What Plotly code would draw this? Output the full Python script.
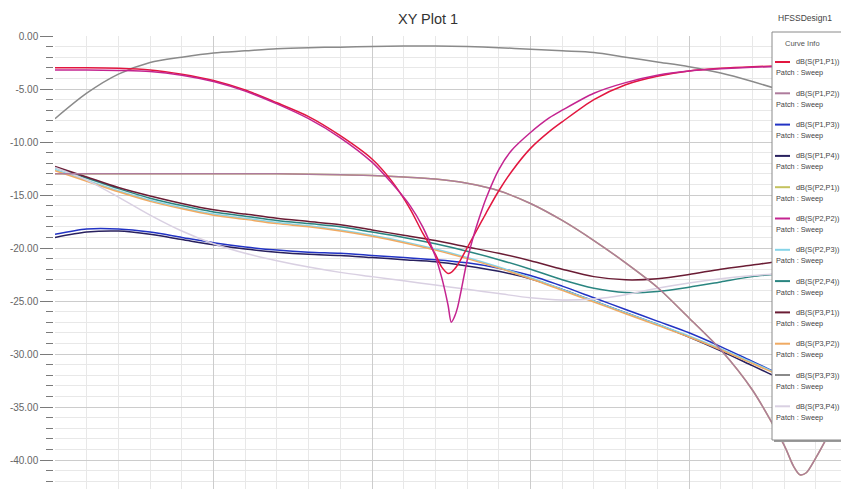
import plotly.graph_objects as go

# ---------------- data (frequency in GHz, magnitude in dB) ----------------
freq = [2.00, 2.05, 2.10, 2.15, 2.20, 2.25, 2.30, 2.35, 2.40, 2.45, 2.50, 2.55, 2.60,
        2.65, 2.70, 2.75, 2.80, 2.85, 2.90, 2.95, 3.00, 3.05, 3.10, 3.15, 3.20, 3.25]

freq_dip = [2.00, 2.05, 2.10, 2.15, 2.20, 2.25, 2.30, 2.35, 2.40, 2.45, 2.50, 2.53, 2.56,
            2.58, 2.60, 2.61, 2.62, 2.625, 2.63, 2.635, 2.64, 2.65, 2.66, 2.67, 2.68, 2.70,
            2.72, 2.75, 2.78, 2.80, 2.85, 2.90, 2.95, 3.00, 3.05, 3.10, 3.15, 3.20, 3.25]

freq_s12 = [2.00, 2.05, 2.10, 2.15, 2.20, 2.25, 2.30, 2.35, 2.40, 2.45, 2.50, 2.55, 2.60,
            2.65, 2.70, 2.75, 2.80, 2.85, 2.90, 2.95, 3.00, 3.05, 3.10, 3.15, 3.165, 3.175,
            3.185, 3.20, 3.22, 3.25]

s11 = [-3.0, -3.0, -3.05, -3.2, -3.6, -4.2, -5.1, -6.3, -7.6, -9.4, -11.6, -13.6, -16.3,
       -18.6, -20.6, -21.8, -22.4, -22.3, -22.0, -21.6, -21.1, -20.0, -18.9, -17.8, -16.7, -14.6,
       -12.8, -10.6, -9.0, -8.1, -6.0, -4.6, -3.8, -3.3, -3.05, -2.9, -2.8, -2.75, -2.7]

s22 = [-3.2, -3.2, -3.25, -3.35, -3.7, -4.3, -5.2, -6.4, -7.8, -9.6, -11.9, -13.8, -16.0,
       -18.0, -20.8, -22.8, -25.4, -27.0, -26.5, -25.6, -24.2, -21.2, -18.9, -17.0, -15.3, -12.6,
       -10.8, -9.1, -7.7, -7.0, -5.4, -4.4, -3.7, -3.3, -3.1, -2.95, -2.85, -2.8, -2.75]

s12 = [-13.0, -13.0, -13.0, -13.0, -13.0, -13.0, -13.0, -13.0, -13.05, -13.1, -13.15, -13.3,
       -13.5, -13.9, -14.6, -15.8, -17.4, -19.3, -21.4, -23.7, -26.6, -29.6, -33.4, -38.6,
       -40.6, -41.4, -41.2, -39.8, -37.6, -34.0]
s21 = s12  # reciprocal pair, drawn underneath S12

s13 = [-18.7, -18.2, -18.2, -18.5, -19.0, -19.5, -19.9, -20.2, -20.4, -20.5, -20.7, -20.9, -21.1,
       -21.4, -21.9, -22.6, -23.6, -24.7, -25.8, -26.9, -28.0, -29.3, -30.7, -32.1, -33.5, -34.8]

s14 = [-19.0, -18.5, -18.4, -18.7, -19.2, -19.7, -20.1, -20.4, -20.6, -20.7, -20.9, -21.1, -21.3,
       -21.7, -22.2, -22.9, -23.9, -25.0, -26.1, -27.2, -28.4, -29.7, -31.1, -32.5, -33.9, -35.2]

s23 = [-12.6, -13.6, -14.6, -15.5, -16.2, -16.8, -17.2, -17.6, -17.9, -18.3, -18.8, -19.4, -20.1,
       -20.9, -21.8, -22.8, -23.9, -25.0, -26.1, -27.2, -28.3, -29.5, -30.8, -32.1, -33.4, -34.6]

s32 = [-12.7, -13.7, -14.7, -15.6, -16.3, -16.9, -17.3, -17.7, -18.0, -18.4, -18.9, -19.5, -20.2,
       -21.0, -21.9, -22.9, -24.0, -25.1, -26.2, -27.3, -28.4, -29.6, -30.9, -32.2, -33.5, -34.7]

s24 = [-12.4, -13.4, -14.4, -15.3, -16.0, -16.6, -17.0, -17.4, -17.7, -18.0, -18.5, -19.0, -19.6,
       -20.3, -21.1, -22.0, -23.0, -23.8, -24.2, -24.1, -23.7, -23.2, -22.7, -22.4, -22.1, -21.9]

s31 = [-12.3, -13.3, -14.3, -15.1, -15.8, -16.4, -16.8, -17.2, -17.5, -17.8, -18.3, -18.8, -19.3,
       -19.9, -20.5, -21.2, -22.0, -22.7, -23.0, -22.9, -22.5, -22.0, -21.6, -21.2, -20.9, -20.6]

s33 = [-7.8, -5.4, -3.6, -2.5, -2.0, -1.6, -1.4, -1.2, -1.1, -1.05, -1.0, -0.95, -0.95,
       -1.0, -1.1, -1.25, -1.4, -1.55, -2.0, -2.45, -2.9, -3.5, -4.3, -5.2, -6.2, -7.2]

s34 = [-12.4, -13.6, -15.2, -16.9, -18.4, -19.6, -20.5, -21.2, -21.8, -22.3, -22.7, -23.1, -23.5,
       -23.9, -24.3, -24.7, -24.9, -24.8, -24.4, -23.8, -23.3, -22.9, -22.6, -22.4, -22.2, -22.0]

curve_names = ["dB(S(P1,P1))", "dB(S(P1,P2))", "dB(S(P1,P3))", "dB(S(P1,P4))",
               "dB(S(P2,P1))", "dB(S(P2,P2))", "dB(S(P2,P3))", "dB(S(P2,P4))",
               "dB(S(P3,P1))", "dB(S(P3,P2))", "dB(S(P3,P3))", "dB(S(P3,P4))"]
curve_x = [freq_dip, freq_s12, freq, freq, freq_s12, freq_dip, freq, freq, freq, freq, freq, freq]
curve_y = [s11, s12, s13, s14, s21, s22, s23, s24, s31, s32, s33, s34]
curve_colors = ["#e2163f", "#ae7b9c", "#2233c4", "#28205e", "#c4c25e", "#c42490",
                "#86d4e8", "#2a8580", "#6a1c34", "#f0aa62", "#8a8a8a", "#d9d0e2"]
curve_z = [2, 1, 0, 0, -1, 2, 0, 0, 0, 0, 0, 0]

sweep_label = "Patch : Sweep"
y_ticks = [0, -5, -10, -15, -20, -25, -30, -35, -40]
y_ticktext = ["0.00", "-5.00", "-10.00", "-15.00", "-20.00", "-25.00", "-30.00", "-35.00", "-40.00"]

# ---------------- layout geometry ----------------
W, H = 841, 489
L, R, T, B = 55, 0, 36, 0
PW, PH = W - L - R, H - T - B


def px(xp):
    return (xp - L) / PW


def py(yp):
    return (H - B - yp) / PH


FONT = "Liberation Sans Narrow, Liberation Sans, Arial, sans-serif"

fig = go.Figure()
for name, xs, ys, col, z in zip(curve_names, curve_x, curve_y, curve_colors, curve_z):
    fig.add_trace(go.Scatter(
        x=xs, y=ys, mode="lines", name=name, zorder=z,
        line=dict(color=col, width=1.5, shape="spline", smoothing=0.8),
        showlegend=False, hoverinfo="skip"))

shapes = []
annotations = []

# curve-info box
box_l, box_r, box_t, box_b = 772, 860, 32, 440
shapes.append(dict(type="rect", xref="paper", yref="paper",
                   x0=px(box_l + 2), x1=px(box_r + 2), y0=py(box_b + 2), y1=py(box_t + 2),
                   fillcolor="#9a9a9a", line=dict(width=0), layer="above"))
shapes.append(dict(type="rect", xref="paper", yref="paper",
                   x0=px(box_l), x1=px(box_r), y0=py(box_b), y1=py(box_t),
                   fillcolor="white", line=dict(color="#8a8a8a", width=1), layer="above"))
annotations.append(dict(text="Curve Info", xref="paper", yref="paper",
                        x=px(802), y=py(44), xanchor="center", yanchor="middle",
                        showarrow=False, font=dict(family=FONT, size=7.5, color="#555")))

row0, row_h = 62, 31.3
for i, (name, col) in enumerate(zip(curve_names, curve_colors)):
    yl = row0 + i * row_h
    shapes.append(dict(type="line", xref="paper", yref="paper",
                       x0=px(775), x1=px(790), y0=py(yl), y1=py(yl),
                       line=dict(color=col, width=2), layer="above"))
    annotations.append(dict(text=name, xref="paper", yref="paper",
                            x=px(794), y=py(yl), xanchor="left", yanchor="middle",
                            showarrow=False, font=dict(family=FONT, size=7.3, color="#444")))
    annotations.append(dict(text=sweep_label, xref="paper", yref="paper",
                            x=px(774), y=py(yl + 11), xanchor="left", yanchor="middle",
                            showarrow=False, font=dict(family=FONT, size=7.3, color="#444")))

annotations.append(dict(text="HFSSDesign1", xref="paper", yref="paper",
                        x=px(805), y=py(18), xanchor="center", yanchor="middle",
                        showarrow=False, font=dict(family=FONT, size=8.5, color="#444")))
annotations.append(dict(text="XY Plot 1", xref="paper", yref="paper",
                        x=px(428), y=py(19), xanchor="center", yanchor="middle",
                        showarrow=False, font=dict(family=FONT, size=14.5, color="#333")))

fig.update_layout(
    width=W, height=H,
    margin=dict(l=L, r=R, t=T, b=B),
    paper_bgcolor="white", plot_bgcolor="white",
    shapes=shapes, annotations=annotations,
    showlegend=False,
    xaxis=dict(range=[2.0, 2.0 + PW / 634.0], side="top",
               showline=True, linecolor="#8a8a8a", linewidth=1.5,
               showticklabels=False, ticks="",
               tick0=2.0, dtick=0.25, showgrid=True, gridcolor="#cccccc", gridwidth=1,
               minor=dict(dtick=0.05, showgrid=True, gridcolor="#e8e8e8", gridwidth=1),
               zeroline=False),
    yaxis=dict(range=[-(H - T - B) / 10.6, 0],
               showline=True, linecolor="#7a7a7a", linewidth=1.5,
               tickmode="array", tickvals=y_ticks, ticktext=y_ticktext,
               ticks="outside", ticklen=13, tickcolor="#7a7a7a", tickwidth=1.3,
               tickfont=dict(family=FONT, size=10, color="#666"),
               showgrid=True, gridcolor="#cccccc", gridwidth=1,
               minor=dict(dtick=1, tick0=0, ticks="outside", ticklen=7, tickcolor="#7a7a7a",
                          tickwidth=1.2, showgrid=True, gridcolor="#e8e8e8", gridwidth=1),
               zeroline=False),
)

fig.write_html("out.html")
